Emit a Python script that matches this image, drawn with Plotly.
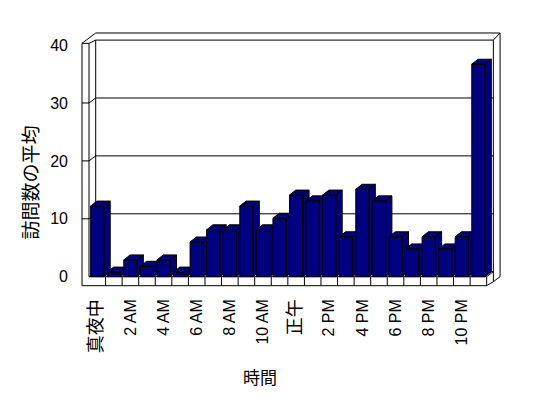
import plotly.graph_objects as go

# ---- data ----
hours = ["真夜中", "1 AM", "2 AM", "3 AM", "4 AM", "5 AM", "6 AM", "7 AM", "8 AM", "9 AM",
         "10 AM", "11 AM", "正午", "1 PM", "2 PM", "3 PM", "4 PM", "5 PM", "6 PM", "7 PM",
         "8 PM", "9 PM", "10 PM", "11 PM"]
visits = [12.2, 0.8, 2.9, 1.8, 2.9, 0.8, 6.0, 8.1, 8.1, 12.2, 8.1, 10.1,
          14.1, 13.1, 14.1, 6.9, 15.1, 13.1, 6.9, 4.8, 6.9, 4.8, 6.9, 36.7]
y_ticks = [0, 10, 20, 30, 40]
label_idx = list(range(0, 24, 2))
x_title = "時間"
y_title = "訪問数の平均"

# ---- style / geometry constants (data units) ----
NAVY = "#000080"
BAR_W = 0.8
BDX, BDY = 0.38, 0.86          # bar depth projection
DX, DY = 0.404, 0.864          # wall depth projection
XL_OUT, XL_IN = -0.922, -0.5
XR = len(hours) - 0.5
TOP = 40.3
FLOOR_B = -1.554
XB_L = XL_IN + DX
XB_R = XR + DX
YB_TOP = TOP + DY * 0.65
OUT_TOP = 42.09
OUT_R = XB_R + DX

fig = go.Figure()

# bars (front, top and side faces), drawn left to right
for i, v in enumerate(visits):
    L, R = i - BAR_W / 2, i + BAR_W / 2
    xs = [L, R, R, L, L, None,
          L, R, R + BDX, L + BDX, L, None,
          R, R + BDX, R + BDX, R, R]
    ys = [0, 0, v, v, 0, None,
          v, v, v + BDY, v + BDY, v, None,
          0, BDY, v + BDY, v, 0]
    fig.add_trace(go.Scatter(x=xs, y=ys, mode="lines", fill="toself",
                             fillcolor=NAVY, line=dict(color="black", width=1),
                             hoverinfo="skip", showlegend=False))

shapes = []
def path(pts):
    d = "M " + " L ".join(f"{x},{y}" for x, y in pts)
    shapes.append(dict(type="path", path=d, xref="x", yref="y", layer="below",
                       line=dict(color="black", width=1)))

# left wall front edges
path([(XL_OUT, TOP), (XL_OUT, FLOOR_B)])
path([(XL_IN, TOP), (XL_IN, 0)])
path([(XL_OUT, TOP), (XL_IN, TOP)])
# top of walls
path([(XL_OUT, TOP), (XB_L, OUT_TOP), (OUT_R, OUT_TOP), (OUT_R, 0)])
path([(XL_IN, TOP), (XB_L, YB_TOP), (XB_R, YB_TOP), (OUT_R, OUT_TOP)])
path([(XB_R, YB_TOP), (XB_R, FLOOR_B + DY * 0.8)])
path([(XB_L, YB_TOP), (XB_L, DY)])
# floor slab
path([(XL_OUT, FLOOR_B), (XR, FLOOR_B), (XB_R, FLOOR_B + DY * 0.8), (OUT_R, 0)])
path([(XL_IN, 0), (XR, 0), (XR, FLOOR_B)])
path([(XL_IN, 0), (XB_L, DY), (XB_R, DY), (XR, 0)])
# gridlines with front ticks
for t in y_ticks[1:-1]:
    path([(XL_OUT, t), (XL_IN, t), (XB_L, t + DY), (XB_R, t + DY)])
# category ticks on floor front
for k in range(len(hours) - 1):
    path([(k + 0.5, FLOOR_B), (k + 0.5, 0)])

def fmt(s):
    if any(ord(c) > 0x2000 for c in s):
        return f'<span style="font-size:18px">{s}</span>'
    return s

fig.update_layout(
    width=548, height=398,
    margin=dict(l=76, r=42, t=25, b=109),
    paper_bgcolor="white", plot_bgcolor="white",
    font=dict(family="Liberation Sans, Noto Sans CJK JP", size=16, color="black"),
    shapes=shapes,
    showlegend=False,
    xaxis=dict(range=[-1.2846, 24.666], showgrid=False, zeroline=False, showline=False,
               tickmode="array", tickvals=label_idx,
               ticktext=[fmt(hours[i]) for i in label_idx],
               tickangle=-90, ticks="", ticklabelstandoff=6, fixedrange=True),
    yaxis=dict(range=[-2.124, 43.47], showgrid=False, zeroline=False, showline=False,
               tickmode="array", tickvals=y_ticks, ticks="", ticklabelstandoff=7,
               fixedrange=True),
    annotations=[
        dict(text=y_title, xref="paper", yref="paper", x=-0.107, y=0.403,
             showarrow=False, textangle=-90, font=dict(size=19,
             family="Noto Sans CJK JP"), xanchor="center", yanchor="middle"),
        dict(text=x_title, xref="paper", yref="paper", x=0.428, y=-0.333,
             showarrow=False, font=dict(size=17, family="Noto Sans CJK JP"),
             xanchor="center", yanchor="middle"),
    ],
)

fig.write_html("out.html")
